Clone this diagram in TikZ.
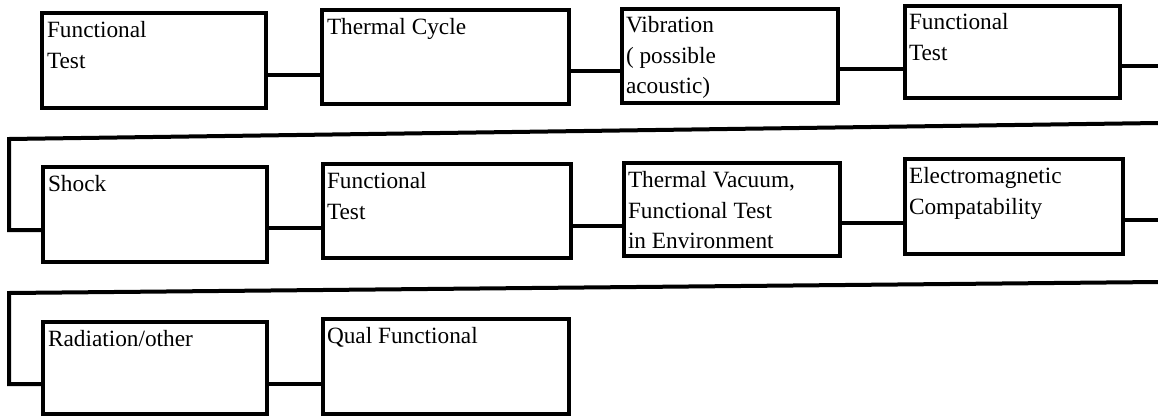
\documentclass[tikz,border=0pt]{standalone}
\usepackage{fontspec}
\setmainfont{Liberation Serif}
\usetikzlibrary{calc}
\newcommand{\boxtext}[1]{\parbox[t]{215pt}{\raggedright #1}}
\begin{document}
\begin{tikzpicture}[x=1pt,y=-1pt,
  stepbox/.style={draw, line width=4.5pt, inner sep=0pt, outer sep=0pt, anchor=north west, line join=miter},
  lbl/.style={anchor=base west, inner sep=0pt, outer sep=0pt, font=\fontsize{23.3}{30.5}\selectfont},
  conn/.style={line width=3.5pt},
  ret/.style={line width=4pt, line join=miter}]
\fill[white] (0,0) rectangle (1158,418);
\useasboundingbox (0,0) rectangle (1158,418);

% row 1
\node[stepbox, minimum width=224pt, minimum height=95pt] (b1) at (42,13) {};
\node[stepbox, minimum width=247pt, minimum height=94pt] (b2) at (322,10) {};
\node[stepbox, minimum width=216pt, minimum height=94pt] (b3) at (622,9) {};
\node[stepbox, minimum width=215pt, minimum height=92pt] (b4) at (905,6) {};
% row 2
\node[stepbox, minimum width=224pt, minimum height=95pt] (b5) at (43,167) {};
\node[stepbox, minimum width=248pt, minimum height=94pt] (b6) at (323,164) {};
\node[stepbox, minimum width=216pt, minimum height=93pt] (b7) at (624,163) {};
\node[stepbox, minimum width=218pt, minimum height=95pt] (b8) at (905,159) {};
% row 3
\node[stepbox, minimum width=224pt, minimum height=92pt] (b9) at (43,322) {};
\node[stepbox, minimum width=246pt, minimum height=95pt] (b10) at (323,319) {};

% labels
\node[lbl] (t1) at ($(b1.north west)+(5,24.5)$) {\boxtext{Functional\\Test}};
\node[lbl] (t2) at ($(b2.north west)+(5,24.5)$) {\boxtext{Thermal Cycle}};
\node[lbl] (t3) at ($(b3.north west)+(4,23.5)$) {\boxtext{Vibration\\( possible\\acoustic)}};
\node[lbl] (t4) at ($(b4.north west)+(4,23.5)$) {\boxtext{Functional\\Test}};
\node[lbl] (t5) at ($(b5.north west)+(5,24.5)$) {\boxtext{Shock}};
\node[lbl] (t6) at ($(b6.north west)+(4,24.5)$) {\boxtext{Functional\\Test}};
\node[lbl] (t7) at ($(b7.north west)+(4,24.5)$) {\boxtext{Thermal Vacuum,\\Functional Test\\in Environment}};
\node[lbl] (t8) at ($(b8.north west)+(4,24.5)$) {\boxtext{Electromagnetic\\Compatability}};
\node[lbl] (t9) at ($(b9.north west)+(5,24.5)$) {\boxtext{Radiation/other}};
\node[lbl] (t10) at ($(b10.north west)+(4,24.5)$) {\boxtext{Qual Functional}};

% connectors within rows
\draw[conn] (b1.east |- 0,75) -- (b2.west |- 0,75);
\draw[conn] (b2.east |- 0,71) -- (b3.west |- 0,71);
\draw[conn] (b3.east |- 0,69) -- (b4.west |- 0,69);
\coordinate (e1) at (1158,66);
\draw[conn] (b4.east |- e1) -- (e1);

\draw[conn] (b5.east |- 0,228) -- (b6.west |- 0,228);
\draw[conn] (b6.east |- 0,226) -- (b7.west |- 0,226);
\draw[conn] (b7.east |- 0,223) -- (b8.west |- 0,223);
\coordinate (e2) at (1158,220);
\draw[conn] (b8.east |- e2) -- (e2);

\draw[conn] (b9.east |- 0,384) -- (b10.west |- 0,384);

% return lines
\coordinate (r1a) at (1158,123);
\coordinate (r1b) at (9,139);
\coordinate (r1c) at (9,230);
\draw[ret] (r1a) -- (r1b) -- (r1c) -- (b5.west |- r1c);

\coordinate (r2a) at (1158,282);
\coordinate (r2b) at (9,293);
\coordinate (r2c) at (9,384);
\draw[ret] (r2a) -- (r2b) -- (r2c) -- (b9.west |- r2c);
\end{tikzpicture}
\end{document}
